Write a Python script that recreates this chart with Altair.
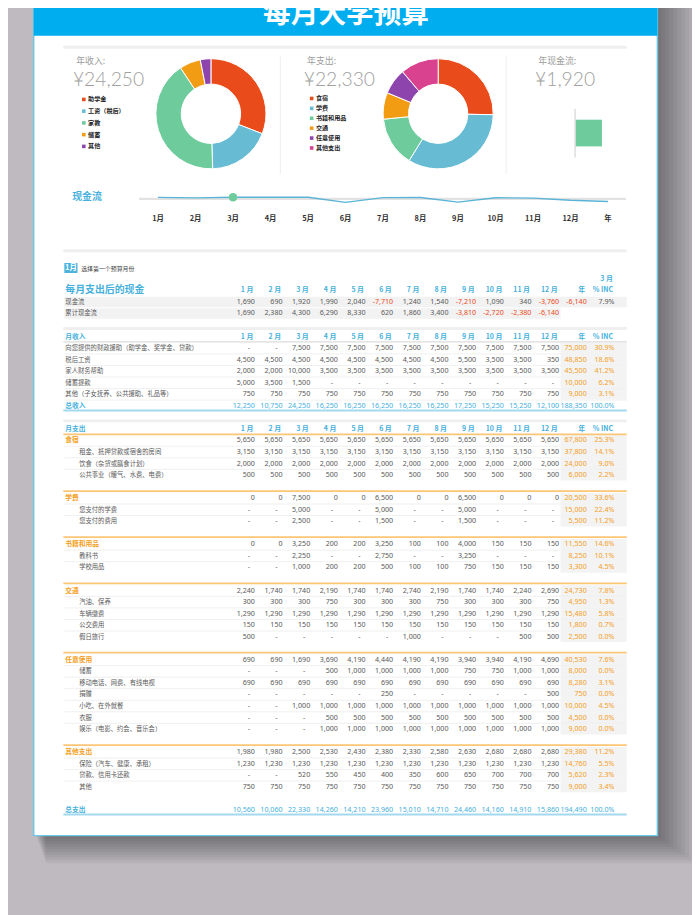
import altair as alt
import pandas as pd

# ---------------------------------------------------------------- data
TITLE = "每月大学预算"
SELECTED_MONTH = 2  # 3月
MONTHS = ["1月", "2月", "3月", "4月", "5月", "6月", "7月", "8月", "9月", "10月", "11月", "12月"]
YEAR_LABEL = "年"
TABLE_COLS = ["1 月", "2 月", "3 月", "4 月", "5 月", "6 月", "7 月", "8 月", "9 月",
              "10 月", "11 月", "12 月", "年", "% INC"]

INCOME_CATS = ["助学金", "工资（税后）", "家教", "储蓄", "其他"]
INCOME_SHARE = [30.9, 18.6, 41.2, 6.2, 3.1]
INCOME_COLORS = ["#e94b1b", "#67bcd4", "#6dcb9c", "#f29c13", "#8e44ad"]

EXPENSE_CATS = ["食宿", "学费", "书籍和用品", "交通", "任意使用", "其他支出"]
EXPENSE_SHARE = [25.3, 33.6, 14.6, 7.8, 7.6, 11.2]
EXPENSE_COLORS = ["#e94b1b", "#67bcd4", "#6dcb9c", "#f29c13", "#8e44ad", "#d9428f"]

CASHFLOW = [1690, 690, 1920, 1990, 2040, -7710, 1240, 1540, -7210, 1090, 340, -3760]
CASHFLOW_YEAR = -6140
CASHFLOW_INC = "7.9%"
CUMULATIVE = [1690, 2380, 4300, 6290, 8330, 620, 1860, 3400, -3810, -2720, -2380, -6140]

_ = None  # shown as "-"
INCOME_ROWS = [
    ("向您提供的财政援助（助学金、奖学金、贷款）",
     [_, _, 7500, 7500, 7500, 7500, 7500, 7500, 7500, 7500, 7500, 7500], 75000, "30.9%"),
    ("税后工资", [4500, 4500, 4500, 4500, 4500, 4500, 4500, 4500, 5500, 3500, 3500, 350], 48850, "18.6%"),
    ("家人财务帮助", [2000, 2000, 10000, 3500, 3500, 3500, 3500, 3500, 3500, 3500, 3500, 3500], 45500, "41.2%"),
    ("储蓄提款", [5000, 3500, 1500, _, _, _, _, _, _, _, _, _], 10000, "6.2%"),
    ("其他（子女抚养、公共援助、礼品等）",
     [750, 750, 750, 750, 750, 750, 750, 750, 750, 750, 750, 750], 9000, "3.1%"),
]
TOTAL_INCOME = [12250, 10750, 24250, 16250, 16250, 16250, 16250, 16250, 17250, 15250, 15250, 12100]
TOTAL_INCOME_YEAR = 188350

EXPENSE_GROUPS = [
    ("食宿", [5650, 5650, 5650, 5650, 5650, 5650, 5650, 5650, 5650, 5650, 5650, 5650], 67800, "25.3%", [
        ("租金、抵押贷款或宿舍的房间",
         [3150, 3150, 3150, 3150, 3150, 3150, 3150, 3150, 3150, 3150, 3150, 3150], 37800, "14.1%"),
        ("饮食（杂货或膳食计划）",
         [2000, 2000, 2000, 2000, 2000, 2000, 2000, 2000, 2000, 2000, 2000, 2000], 24000, "9.0%"),
        ("公共事业（暖气、水费、电费）",
         [500, 500, 500, 500, 500, 500, 500, 500, 500, 500, 500, 500], 6000, "2.2%"),
    ]),
    ("学费", [0, 0, 7500, 0, 0, 6500, 0, 0, 6500, 0, 0, 0], 20500, "33.6%", [
        ("您支付的学费", [_, _, 5000, _, _, 5000, _, _, 5000, _, _, _], 15000, "22.4%"),
        ("您支付的费用", [_, _, 2500, _, _, 1500, _, _, 1500, _, _, _], 5500, "11.2%"),
    ]),
    ("书籍和用品", [0, 0, 3250, 200, 200, 3250, 100, 100, 4000, 150, 150, 150], 11550, "14.6%", [
        ("教科书", [_, _, 2250, _, _, 2750, _, _, 3250, _, _, _], 8250, "10.1%"),
        ("学校用品", [_, _, 1000, 200, 200, 500, 100, 100, 750, 150, 150, 150], 3300, "4.5%"),
    ]),
    ("交通", [2240, 1740, 1740, 2190, 1740, 1740, 2740, 2190, 1740, 1740, 2240, 2690], 24730, "7.8%", [
        ("汽油、保养", [300, 300, 300, 750, 300, 300, 300, 750, 300, 300, 300, 750], 4950, "1.3%"),
        ("车辆缴费", [1290, 1290, 1290, 1290, 1290, 1290, 1290, 1290, 1290, 1290, 1290, 1290], 15480, "5.8%"),
        ("公交费用", [150, 150, 150, 150, 150, 150, 150, 150, 150, 150, 150, 150], 1800, "0.7%"),
        ("假日旅行", [500, _, _, _, _, _, 1000, _, _, _, 500, 500], 2500, "0.0%"),
    ]),
    ("任意使用", [690, 690, 1690, 3690, 4190, 4440, 4190, 4190, 3940, 3940, 4190, 4690], 40530, "7.6%", [
        ("储蓄", [_, _, _, 500, 1000, 1000, 1000, 1000, 750, 750, 1000, 1000], 8000, "0.0%"),
        ("移动电话、网费、有线电视", [690, 690, 690, 690, 690, 690, 690, 690, 690, 690, 690, 690], 8280, "3.1%"),
        ("捐赠", [_, _, _, _, _, 250, _, _, _, _, _, 500], 750, "0.0%"),
        ("小吃、在外就餐", [_, _, 1000, 1000, 1000, 1000, 1000, 1000, 1000, 1000, 1000, 1000], 10000, "4.5%"),
        ("衣服", [_, _, _, 500, 500, 500, 500, 500, 500, 500, 500, 500], 4500, "0.0%"),
        ("娱乐（电影、约会、音乐会）", [_, _, _, 1000, 1000, 1000, 1000, 1000, 1000, 1000, 1000, 1000], 9000, "0.0%"),
    ]),
    ("其他支出", [1980, 1980, 2500, 2530, 2430, 2380, 2330, 2580, 2630, 2680, 2680, 2680], 29380, "11.2%", [
        ("保险（汽车、健康、承租）", [1230, 1230, 1230, 1230, 1230, 1230, 1230, 1230, 1230, 1230, 1230, 1230], 14760, "5.5%"),
        ("贷款、信用卡还款", [_, _, 520, 550, 450, 400, 350, 600, 650, 700, 700, 700], 5620, "2.3%"),
        ("其他", [750, 750, 750, 750, 750, 750, 750, 750, 750, 750, 750, 750], 9000, "3.4%"),
    ]),
]
TOTAL_EXPENSE = [10560, 10060, 22330, 14260, 14210, 23960, 15010, 14710, 24460, 14160, 14910, 15860]
TOTAL_EXPENSE_YEAR = 194490

# ---------------------------------------------------------------- styling helpers
OX, OY = 8, 8          # page margin offset
CJK = "Noto Sans CJK SC"
NUM = "Noto Sans"
BLUE = "#45b0dc"
ORANGE = "#f4a01c"
GREY_TXT = "#5a5a5a"
DUMMY = pd.DataFrame({"_": [0]})


def rect(x1, y1, x2, y2, color, opacity=1.0, **kw):
    return alt.Chart(DUMMY).mark_rect(color=color, opacity=opacity, **kw).encode(
        x=alt.value(x1 - OX), x2=alt.value(x2 - OX), y=alt.value(y1 - OY), y2=alt.value(y2 - OY))


def hline(x1, x2, y, color, w):
    return alt.Chart(DUMMY).mark_rule(color=color, strokeWidth=w).encode(
        x=alt.value(x1 - OX), x2=alt.value(x2 - OX), y=alt.value(y - OY))


def vline(x, y1, y2, color, w):
    return alt.Chart(DUMMY).mark_rule(color=color, strokeWidth=w).encode(
        x=alt.value(x - OX), y=alt.value(y1 - OY), y2=alt.value(y2 - OY))


def label(text, x, y, size, color, weight="normal", align="left", font=CJK, baseline="middle"):
    return alt.Chart(DUMMY).mark_text(text=text, fontSize=size, color=color, fontWeight=weight,
                                      align=align, baseline=baseline, font=font).encode(
        x=alt.value(x - OX), y=alt.value(y - OY))


def fmt(v):
    return "-" if v is None else f"{v:,}"


layers = []

# ---------------------------------------------------------------- page / card
for i in range(1, 11):
    layers.append(rect(36 + i, 0, 665 + 4 * i, 840 + 2.8 * i, "#000000", opacity=0.045))
layers.append(rect(34, 0, 665, 840, "#ffffff", fill="#ffffff", stroke="#6cc6e6", strokeWidth=1.5))
layers.append(rect(34, 0, 665, 30.7, "#00aeef"))
layers.append(label(TITLE, 350, 18.2, 28, "#ffffff", weight="bold", align="center", baseline="alphabetic"))
layers.append(hline(64, 634, 42.3, "#efefef", 3))
layers.append(vline(283.5, 52, 171, "#eeeeee", 1))
layers.append(vline(512, 52, 171, "#eeeeee", 1))

# ---------------------------------------------------------------- headline numbers
for lab, val, x in [("年收入:", TOTAL_INCOME[SELECTED_MONTH], 77),
                    ("年支出:", TOTAL_EXPENSE[SELECTED_MONTH], 310.5),
                    ("年现金流:", CASHFLOW[SELECTED_MONTH], 544.5)]:
    layers.append(label(lab, x, 56.6, 9, "#9d9d9d"))
    layers.append(label(f"¥{val:,}", x - 3.3, 76, 19.5, "#a0a0a0", weight=300, font="Lato"))

# ---------------------------------------------------------------- donuts + legends
inc_df = pd.DataFrame({"cat": INCOME_CATS, "v": INCOME_SHARE, "i": range(len(INCOME_CATS))})
exp_df = pd.DataFrame({"cat": EXPENSE_CATS, "v": EXPENSE_SHARE, "i": range(len(EXPENSE_CATS))})
inc_color = alt.Scale(domain=INCOME_CATS, range=INCOME_COLORS)
exp_color = alt.Scale(domain=EXPENSE_CATS, range=EXPENSE_COLORS)

for df, cs, cx in [(inc_df, inc_color, 213.3), (exp_df, exp_color, 443.2)]:
    layers.append(alt.Chart(df).mark_arc(innerRadius=30, outerRadius=55.7, stroke="#ffffff", strokeWidth=1).encode(
        theta=alt.Theta("v:Q", stack=True),
        color=alt.Color("cat:N", scale=cs, legend=None),
        order=alt.Order("i:Q"),
        x=alt.value(cx - OX), y=alt.value(109.7 - OY)))

for df, cs, sx, tx, y0, y1 in [(inc_df, inc_color, 84.7, 89, 95.2, 142.7),
                               (exp_df, exp_color, 315.2, 319.5, 94.2, 144.3)]:
    ys = alt.Scale(domain=[0, len(df) - 1], range=[y0 - OY, y1 - OY], zero=False, nice=False)
    layers.append(alt.Chart(df).mark_square(size=13, opacity=1).encode(
        x=alt.value(sx - OX), y=alt.Y("i:Q", scale=ys, axis=None),
        color=alt.Color("cat:N", scale=cs, legend=None)))
    layers.append(alt.Chart(df).mark_text(align="left", baseline="middle", fontSize=6.2, fontWeight="bold",
                                          color="#222222", font=CJK).encode(
        x=alt.value(tx - OX), y=alt.Y("i:Q", scale=ys, axis=None), text="cat:N"))

# ---------------------------------------------------------------- annual cash-flow bar
cash_df = pd.DataFrame({"base": [0], "v": [CASHFLOW[SELECTED_MONTH]]})
layers.append(alt.Chart(cash_df).mark_rect(color="#6dcb9c").encode(
    x=alt.X("base:Q", scale=alt.Scale(domain=[0, 4000], range=[582 - OX, 638 - OX], zero=False, nice=False), axis=None),
    x2="v:Q", y=alt.value(115.7 - OY), y2=alt.value(142.7 - OY)))
layers.append(vline(581.7, 105, 154, "#dddddd", 1.5))

# ---------------------------------------------------------------- monthly cash-flow line
line_df = pd.DataFrame({"m": MONTHS + [YEAR_LABEL], "v": CASHFLOW + [CASHFLOW_YEAR]})
XL = alt.Scale(type="point", domain=MONTHS + [YEAR_LABEL], range=[159.8 - OX, 615 - OX], padding=0)
YL = alt.Scale(domain=[-50000, 50000], range=[221.8 - OY, 168.6 - OY], zero=False, nice=False)
layers.append(label("现金流", 73, 194.3, 10, BLUE, weight="bold"))
layers.append(hline(140.6, 633, 195.8, "#e2e2e2", 2.5))
layers.append(alt.Chart(line_df).mark_line(color="#5ab4d6", strokeWidth=1.4).encode(
    x=alt.X("m:N", scale=XL, axis=None, sort=None), y=alt.Y("v:Q", scale=YL, axis=None)))
layers.append(alt.Chart(line_df.iloc[[SELECTED_MONTH]]).mark_circle(size=75, color="#6dcb9c", opacity=1).encode(
    x=alt.X("m:N", scale=XL, axis=None, sort=None), y=alt.Y("v:Q", scale=YL, axis=None)))
layers.append(alt.Chart(line_df).mark_text(fontSize=7.5, fontWeight="bold", color="#333333", font=CJK,
                                           baseline="middle").encode(
    x=alt.X("m:N", scale=XL, axis=None, sort=None), y=alt.value(216 - OY), text="m:N"))

# ---------------------------------------------------------------- table
layers.append(hline(64, 634, 248.3, "#efefef", 3))
layers.append(rect(65, 260.7, 78.3, 270.7, "#4cb3dc"))
layers.append(label(MONTHS[0], 71.7, 265.9, 7.5, "#ffffff", weight="bold", align="center"))
layers.append(label("选择第一个预算月份", 82, 266.3, 6, "#444444"))

cells, labels = [], []
bg_full, bg_part, bg_year = [], [], []
thick, hdr_line, orange_lines, blue_lines, thin = [], [], [], [], []


def add_values(k, vals, yr, pct, kmonth="num", kyr="yr", kpct="yr"):
    for c, v in zip(TABLE_COLS[:12], vals):
        kind = kmonth
        if kmonth == "num" and v is not None and v < 0:
            kind = "neg"
        cells.append({"k": k, "col": c, "txt": fmt(v), "kind": kind, "dash": v is None})
    if yr is not None:
        cells.append({"k": k, "col": TABLE_COLS[12], "txt": fmt(yr), "kind": kyr, "dash": False})
    if pct is not None:
        cells.append({"k": k, "col": TABLE_COLS[13], "txt": pct, "kind": kpct, "dash": False})


headers = []


def add_header(k):
    for c in TABLE_COLS:
        headers.append({"k": k, "col": c, "txt": c})


# section 1: cash after expenses
headers.append({"k": -1, "col": TABLE_COLS[13], "txt": TABLE_COLS[SELECTED_MONTH]})
labels.append({"k": 0, "label": "每月支出后的现金", "lvl": "big"})
add_header(0)
labels.append({"k": 1, "label": "现金流", "lvl": "top"})
add_values(1, CASHFLOW, CASHFLOW_YEAR, CASHFLOW_INC, kyr="neg", kpct="num")
bg_full.append(1)
labels.append({"k": 2, "label": "累计现金流", "lvl": "top"})
add_values(2, CUMULATIVE, None, None)
bg_part.append(2)

# section 2: income
k = 4
thick.append(k - 0.7)
labels.append({"k": k, "label": "月收入", "lvl": "sec"})
add_header(k)
hdr_line.append(k + 0.46)
for name, vals, yr, pct in INCOME_ROWS:
    k += 1
    labels.append({"k": k, "label": name, "lvl": "top"})
    add_values(k, vals, yr, pct)
    bg_year.append(k)
    thin.append(k + 0.5)
k += 1
labels.append({"k": k, "label": "总收入", "lvl": "sec"})
add_values(k, TOTAL_INCOME, TOTAL_INCOME_YEAR, "100.0%", kmonth="tot", kyr="tot", kpct="tot")
blue_lines.append(k + 0.4)

# section 3: expenses
k += 2
thick.append(k - 0.7)
labels.append({"k": k, "label": "月支出", "lvl": "sec"})
add_header(k)
orange_lines.append(k + 0.47)
first = True
for cat, vals, yr, pct, subs in EXPENSE_GROUPS:
    k += 1 if first else 2
    if not first:
        orange_lines.append(k - 0.62)
    first = False
    labels.append({"k": k, "label": cat, "lvl": "cat"})
    add_values(k, vals, yr, pct)
    bg_year.append(k)
    for j, (name, svals, syr, spct) in enumerate(subs):
        thin.append(k + 0.5)
        k += 1
        labels.append({"k": k, "label": name, "lvl": "sub"})
        add_values(k, svals, syr, spct)
        bg_year.append(k)
k += 2
labels.append({"k": k, "label": "总支出", "lvl": "sec"})
add_values(k, TOTAL_EXPENSE, TOTAL_EXPENSE_YEAR, "100.0%", kmonth="tot", kyr="tot", kpct="tot")
blue_lines.append(k + 0.4)

XT = alt.Scale(type="point", domain=TABLE_COLS, range=[257.8 - OX, 621.5 - OX], padding=0)
YT = alt.Scale(domain=[0, 45], range=[288.4 - OY, 814.0 - OY], zero=False, nice=False)


def band_layer(rows, x1, x2, color):
    df = pd.DataFrame({"lo": [r - 0.46 for r in rows], "hi": [r + 0.46 for r in rows]})
    return alt.Chart(df).mark_rect(color=color).encode(
        x=alt.value(x1 - OX), x2=alt.value(x2 - OX),
        y=alt.Y("lo:Q", scale=YT, axis=None), y2="hi:Q")


def line_layer(pos, color, w, x1=64, x2=634):
    df = pd.DataFrame({"p": pos})
    return alt.Chart(df).mark_rule(color=color, strokeWidth=w).encode(
        x=alt.value(x1 - OX), x2=alt.value(x2 - OX), y=alt.Y("p:Q", scale=YT, axis=None))


layers.append(band_layer(bg_full, 65, 634, "#f2f2f2"))
layers.append(band_layer(bg_part, 65, 567, "#f2f2f2"))
layers.append(band_layer(bg_year, 567, 634, "#f3f3f3"))
layers.append(line_layer(thin, "#ececec", 0.8, 65, 634))
layers.append(line_layer(thick, "#efefef", 3))
layers.append(line_layer(hdr_line, "#dcdcdc", 1.2))
layers.append(line_layer(orange_lines, "#fbc675", 1.8))
layers.append(line_layer(blue_lines, "#a3d9ee", 2))

lab_df = pd.DataFrame(labels)
lvl_style = {
    "big": dict(x=66, size=10, color=BLUE, weight="bold"),
    "sec": dict(x=66, size=6.8, color=BLUE, weight="bold"),
    "cat": dict(x=66, size=6.8, color=ORANGE, weight="bold"),
    "top": dict(x=66, size=6.4, color=GREY_TXT, weight="normal"),
    "sub": dict(x=80, size=6.4, color=GREY_TXT, weight="normal"),
}
for lvl, st in lvl_style.items():
    sub = lab_df[lab_df["lvl"] == lvl]
    layers.append(alt.Chart(sub).mark_text(align="left", baseline="middle", fontSize=st["size"], color=st["color"],
                                           fontWeight=st["weight"], font=CJK).encode(
        x=alt.value(st["x"] - OX), y=alt.Y("k:Q", scale=YT, axis=None), text="label:N"))

hdr_df = pd.DataFrame(headers)
layers.append(alt.Chart(hdr_df).mark_text(align="right", baseline="middle", fontSize=7, fontWeight="bold",
                                          color=BLUE, font=CJK, dx=-1.5).encode(
    x=alt.X("col:N", scale=XT, axis=None), y=alt.Y("k:Q", scale=YT, axis=None), text="txt:N"))

cell_df = pd.DataFrame(cells)
KIND = alt.Scale(domain=["num", "neg", "yr", "tot"], range=[GREY_TXT, "#ea4a1c", ORANGE, BLUE])
for is_dash, dx in [(False, 0), (True, -5)]:
    sub = cell_df[cell_df["dash"] == is_dash]
    layers.append(alt.Chart(sub).mark_text(align="right", baseline="middle", fontSize=7.2, font=NUM, dx=dx).encode(
        x=alt.X("col:N", scale=XT, axis=None), y=alt.Y("k:Q", scale=YT, axis=None), text="txt:N",
        color=alt.Color("kind:N", scale=KIND, legend=None)))

chart = alt.layer(*layers).resolve_scale(
    x="independent", y="independent", color="independent", theta="independent"
).properties(
    width=692, height=907, padding=0, autosize=alt.AutoSizeParams(type="none"), background="#bebac0"
).configure_view(stroke=None)

chart.save("out.html", embed_options={"renderer": "svg", "actions": False})
